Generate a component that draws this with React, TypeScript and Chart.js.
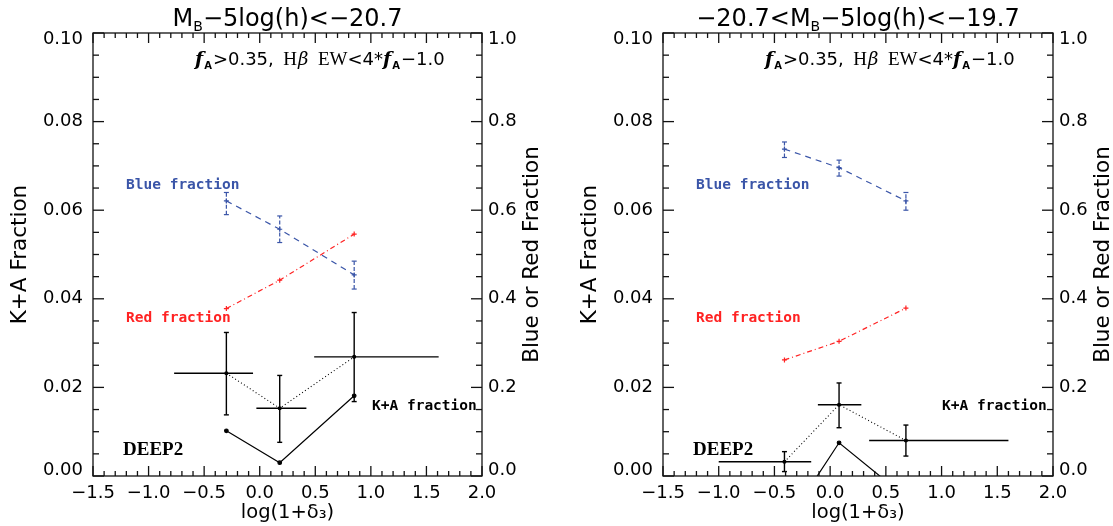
import React, { useEffect, useRef } from "react";
import { Chart, registerables } from "chart.js";
Chart.register(...registerables);

// ---------- shared axis definitions ----------
const xMin = -1.5;
const xMax = 2.0;
const kaMin = 0;
const kaMax = 0.1;
const fracMin = 0;
const fracMax = 1;

// ---------- left panel: M_B - 5log(h) < -20.7 ----------
const L_density = [-0.3, 0.18, 0.85];
const L_binLo = [-0.77, -0.03, 0.49];
const L_binHi = [-0.06, 0.42, 1.61];
const L_ka = [0.0232, 0.0153, 0.0269];
const L_kaLo = [0.0138, 0.0076, 0.0168];
const L_kaHi = [0.0324, 0.0227, 0.0369];
const L_kaSolid = [0.0102, 0.003, 0.0181];
const L_blue = [0.621, 0.557, 0.454];
const L_blueLo = [0.59, 0.527, 0.422];
const L_blueHi = [0.64, 0.587, 0.485];
const L_red = [0.378, 0.442, 0.546];

// ---------- right panel: -20.7 < M_B - 5log(h) < -19.7 ----------
const R_density = [-0.41, 0.08, 0.68];
const R_binLo = [-1.0, -0.11, 0.35];
const R_binHi = [-0.17, 0.28, 1.6];
const R_ka = [0.0032, 0.0161, 0.008];
const R_kaLo = [0.001, 0.0109, 0.0045];
const R_kaHi = [0.0055, 0.021, 0.0115];
const R_kaSolid = [-0.0113, 0.0075, -0.0048];
const R_blue = [0.738, 0.696, 0.621];
const R_blueLo = [0.719, 0.677, 0.6];
const R_blueHi = [0.754, 0.713, 0.64];
const R_red = [0.262, 0.304, 0.379];

// ---------- texts ----------
const L_title = [
  { t: "M", sub: false },
  { t: "B", sub: true },
  { t: "\u22125log(h)<\u221220.7", sub: false },
];
const R_title = [
  { t: "\u221220.7<M", sub: false },
  { t: "B", sub: true },
  { t: "\u22125log(h)<\u221219.7", sub: false },
];
const yLeftTitle = "K+A Fraction";
const yRightTitle = "Blue or Red Fraction";
const xTitle = "log(1+\u03b4\u2083)";
const blueLabel = "Blue fraction";
const redLabel = "Red fraction";
const kaLabel = "K+A fraction";
const surveyLabel = "DEEP2";

const BLUE = "#3a55a8";
const RED = "#ff2222";
const SANS = "'DejaVu Sans', sans-serif";
const SERIF = "'Liberation Serif', serif";

const fmtMinus = (v: number, d: number) =>
  (v < -1e-9 ? "\u2212" : "") + Math.abs(v).toFixed(d);

// end labels of the vertical axes sit slightly inside the axis range
const yLabel = (v: number, d: number, lo: number, hi: number) => {
  const s = fmtMinus(v, d);
  if (Math.abs(v - hi) < 1e-9) return ["", s];
  if (Math.abs(v - lo) < 1e-9) return [s, ""];
  return s;
};

const vSegs = (xs: number[], lo: number[], hi: number[]) =>
  xs.flatMap((x, i) => [
    { x, y: lo[i] },
    { x, y: hi[i] },
    { x, y: null },
  ]);
const hSegs = (ys: number[], lo: number[], hi: number[]) =>
  ys.flatMap((y, i) => [
    { x: lo[i], y },
    { x: hi[i], y },
    { x: hi[i], y: null },
  ]);
const pts = (xs: number[], ys: number[]) => xs.map((x, i) => ({ x, y: ys[i] }));

type PanelData = {
  density: number[];
  binLo: number[];
  binHi: number[];
  ka: number[];
  kaLo: number[];
  kaHi: number[];
  kaSolid: number[];
  blue: number[];
  blueLo: number[];
  blueHi: number[];
  red: number[];
  title: { t: string; sub: boolean }[];
  leftW: number;
  rightW: number;
};

function decorPlugin(p: PanelData) {
  return {
    id: "decor",
    afterDraw(chart: any) {
      const { ctx } = chart;
      const { left, right, top, bottom } = chart.chartArea;
      const sx = chart.scales.x;
      const sy = chart.scales.y;
      const sy1 = chart.scales.y1;
      const line = (a: number, b: number, c: number, d: number) => {
        ctx.beginPath();
        ctx.moveTo(a, b);
        ctx.lineTo(c, d);
        ctx.stroke();
      };
      ctx.save();
      ctx.strokeStyle = "#111";
      ctx.lineWidth = 1.3;
      ctx.strokeRect(left, top, right - left, bottom - top);
      for (let i = 0; i <= 35; i++) {
        const px = sx.getPixelForValue(xMin + i * 0.1);
        const len = i % 5 === 0 ? 10 : 5;
        line(px, bottom, px, bottom - len);
        line(px, top, px, top + len);
      }
      for (let i = 0; i <= 20; i++) {
        const py = sy.getPixelForValue(i * 0.005);
        const len = i % 4 === 0 ? 11 : 6;
        line(left, py, left + len, py);
      }
      for (let i = 0; i <= 20; i++) {
        const py = sy1.getPixelForValue(i * 0.05);
        const len = i % 4 === 0 ? 11 : 6;
        line(right, py, right - len, py);
      }

      ctx.fillStyle = "#000";
      ctx.textBaseline = "alphabetic";
      // panel title with subscript
      const big = `24px ${SANS}`;
      const small = `14px ${SANS}`;
      let total = 0;
      for (const s of p.title) {
        ctx.font = s.sub ? small : big;
        total += ctx.measureText(s.t).width;
      }
      let cx = (left + right) / 2 - total / 2;
      for (const s of p.title) {
        ctx.font = s.sub ? small : big;
        ctx.textAlign = "left";
        ctx.fillText(s.t, cx, s.sub ? 31 : 26);
        cx += ctx.measureText(s.t).width;
      }

      // annotation f_A>0.35, Hb EW<4*f_A-1.0
      const fI = `italic bold 19px 'DejaVu Serif', serif`;
      const sub = `bold 10px ${SANS}`;
      const num = `18px ${SANS}`;
      const ser = `19px ${SERIF}`;
      const ann = [
        { t: "f", f: fI, dy: 0, g: 1 },
        { t: "A", f: sub, dy: 4, g: 1 },
        { t: ">0.35,", f: num, dy: 0, g: 0 },
        { t: "  H", f: ser, dy: 0, g: 1 },
        { t: "\u03b2", f: `italic 18px 'DejaVu Serif', serif`, dy: 0, g: 0 },
        { t: "  EW", f: ser, dy: 0, g: 0 },
        { t: "<4*", f: num, dy: 0, g: 0 },
        { t: "f", f: fI, dy: 0, g: 1 },
        { t: "A", f: sub, dy: 4, g: 1 },
        { t: "\u22121.0", f: num, dy: 0, g: 0 },
      ];
      let ax = left + 102;
      for (const s of ann) {
        ctx.font = s.f;
        ctx.textAlign = "left";
        ctx.fillText(s.t, ax, 65 + s.dy);
        ax += ctx.measureText(s.t).width + s.g;
      }

      // axis titles
      ctx.font = `21.5px ${SANS}`;
      ctx.textAlign = "center";
      ctx.textBaseline = "middle";
      const midY = (top + bottom) / 2;
      ctx.save();
      ctx.translate(left - 73, midY);
      ctx.rotate(-Math.PI / 2);
      ctx.fillText(yLeftTitle, 0, 0);
      ctx.restore();
      ctx.save();
      ctx.translate(right + 50, midY);
      ctx.rotate(-Math.PI / 2);
      ctx.fillText(yRightTitle, 0, 0);
      ctx.restore();
      ctx.font = `19.5px ${SANS}`;
      ctx.fillText(xTitle, (left + right) / 2, bottom + 37);

      // labels
      ctx.textAlign = "left";
      ctx.textBaseline = "alphabetic";
      ctx.font = `bold 14.5px 'DejaVu Sans Mono', monospace`;
      ctx.fillStyle = BLUE;
      ctx.fillText(blueLabel, left + 33, 189);
      ctx.fillStyle = RED;
      ctx.fillText(redLabel, left + 33, 322);
      ctx.fillStyle = "#000";
      ctx.fillText(kaLabel, left + 279, 410);
      ctx.font = `bold 19px ${SERIF}`;
      ctx.fillText(surveyLabel, left + 30, 455);
      ctx.restore();
    },
  };
}

function makeConfig(p: PanelData): any {
  const tickFont = { family: SANS, size: 18 };
  const yTickFont = { family: SANS, size: 18, lineHeight: "12px" };
  return {
    type: "line",
    data: {
      datasets: [
        {
          data: hSegs(p.ka, p.binLo, p.binHi),
          yAxisID: "y",
          borderColor: "#000",
          borderWidth: 1.4,
          pointRadius: 0,
          spanGaps: false,
        },
        {
          data: vSegs(p.density, p.kaLo, p.kaHi),
          yAxisID: "y",
          borderColor: "#000",
          borderWidth: 1.4,
          pointStyle: "line",
          pointRadius: 2.5,
          pointBorderWidth: 1.4,
          pointBorderColor: "#000",
          spanGaps: false,
        },
        {
          data: pts(p.density, p.ka),
          yAxisID: "y",
          borderColor: "#000",
          borderWidth: 1.1,
          borderDash: [1, 2.5],
          pointRadius: 1.5,
          pointBackgroundColor: "#000",
          pointBorderColor: "#000",
        },
        {
          data: pts(p.density, p.kaSolid),
          yAxisID: "y",
          borderColor: "#000",
          borderWidth: 1.2,
          pointRadius: 1.8,
          pointBackgroundColor: "#000",
          pointBorderColor: "#000",
        },
        {
          data: vSegs(p.density, p.blueLo, p.blueHi),
          yAxisID: "y1",
          borderColor: BLUE,
          borderWidth: 1.2,
          borderDash: [4, 2],
          pointStyle: "line",
          pointRadius: 2.5,
          pointBorderWidth: 1.2,
          pointBorderColor: BLUE,
          spanGaps: false,
        },
        {
          data: pts(p.density, p.blue),
          yAxisID: "y1",
          borderColor: BLUE,
          borderWidth: 1.2,
          borderDash: [6, 5],
          pointStyle: "cross",
          pointRadius: 2.5,
          pointBorderWidth: 1.2,
          pointBorderColor: BLUE,
        },
        {
          data: pts(p.density, p.red),
          yAxisID: "y1",
          borderColor: RED,
          borderWidth: 1.2,
          borderDash: [5, 3, 1, 3],
          pointStyle: "cross",
          pointRadius: 2.5,
          pointBorderWidth: 1.2,
          pointBorderColor: RED,
        },
      ],
    },
    options: {
      responsive: false,
      maintainAspectRatio: false,
      animation: false,
      devicePixelRatio: 1,
      layout: { padding: { top: 33, left: 0, right: 0, bottom: 0 } },
      plugins: { legend: { display: false }, tooltip: { enabled: false }, title: { display: false } },
      elements: { line: { tension: 0, fill: false } },
      scales: {
        x: {
          type: "linear",
          min: xMin,
          max: xMax,
          grid: { display: false, drawTicks: false },
          border: { display: false },
          ticks: {
            stepSize: 0.5,
            autoSkip: false,
            maxRotation: 0,
            padding: 7,
            color: "#000",
            font: tickFont,
            callback: (v: number) => fmtMinus(v, 1),
          },
          afterFit: (s: any) => {
            s.height = 50;
          },
        },
        y: {
          type: "linear",
          position: "left",
          min: kaMin,
          max: kaMax,
          grid: { display: false, drawTicks: false },
          border: { display: false },
          ticks: {
            stepSize: 0.02,
            padding: 10,
            color: "#000",
            font: yTickFont,
            callback: (v: number) => yLabel(v, 2, kaMin, kaMax),
          },
          afterFit: (s: any) => {
            s.width = p.leftW;
          },
        },
        y1: {
          type: "linear",
          position: "right",
          min: fracMin,
          max: fracMax,
          grid: { display: false, drawTicks: false },
          border: { display: false },
          ticks: {
            stepSize: 0.2,
            padding: 6,
            color: "#000",
            font: yTickFont,
            callback: (v: number) => yLabel(v, 1, fracMin, fracMax),
          },
          afterFit: (s: any) => {
            s.width = p.rightW;
          },
        },
      },
    },
    plugins: [decorPlugin(p)],
  };
}

const leftPanel: PanelData = {
  density: L_density,
  binLo: L_binLo,
  binHi: L_binHi,
  ka: L_ka,
  kaLo: L_kaLo,
  kaHi: L_kaHi,
  kaSolid: L_kaSolid,
  blue: L_blue,
  blueLo: L_blueLo,
  blueHi: L_blueHi,
  red: L_red,
  title: L_title,
  leftW: 93,
  rightW: 74,
};

const rightPanel: PanelData = {
  density: R_density,
  binLo: R_binLo,
  binHi: R_binHi,
  ka: R_ka,
  kaLo: R_kaLo,
  kaHi: R_kaHi,
  kaSolid: R_kaSolid,
  blue: R_blue,
  blueLo: R_blueLo,
  blueHi: R_blueHi,
  red: R_red,
  title: R_title,
  leftW: 107,
  rightW: 60,
};

function Panel({ data, x, w }: { data: PanelData; x: number; w: number }) {
  const ref = useRef<HTMLCanvasElement | null>(null);
  useEffect(() => {
    if (!ref.current) return;
    const chart = new Chart(ref.current, makeConfig(data));
    return () => chart.destroy();
  }, [data]);
  return (
    <canvas
      ref={ref}
      width={w}
      height={526}
      style={{ position: "absolute", left: x, top: 0, width: w, height: 526 }}
    />
  );
}

export default function App() {
  return (
    <div
      style={{
        position: "fixed",
        left: 0,
        top: 0,
        width: 1113,
        height: 526,
        background: "#fff",
        overflow: "hidden",
      }}
    >
      <Panel data={leftPanel} x={0} w={556} />
      <Panel data={rightPanel} x={556} w={557} />
    </div>
  );
}
